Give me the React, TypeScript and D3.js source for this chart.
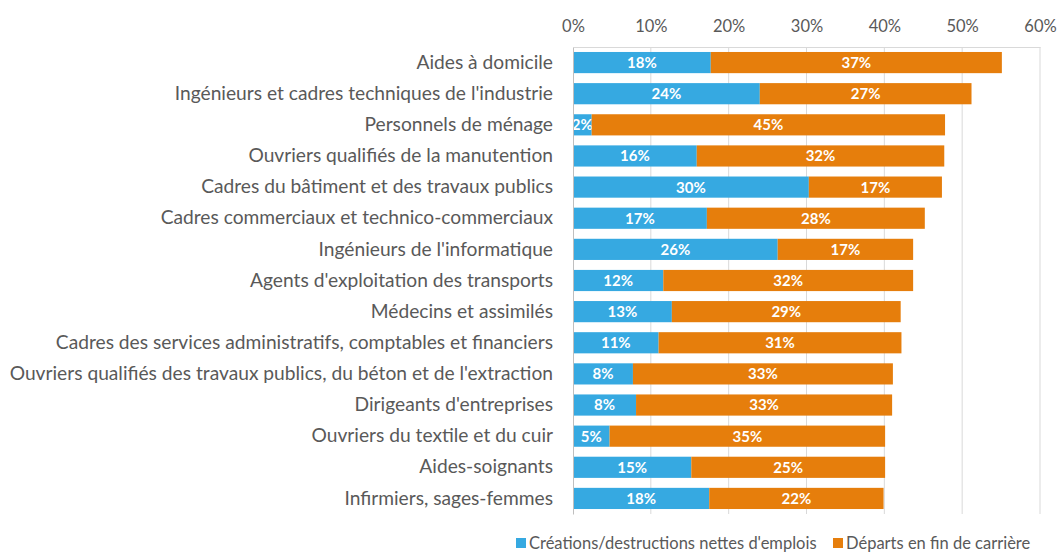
import React, { useEffect, useRef } from 'react';
import * as d3 from 'd3';

const categories = [
  'Aides à domicile',
  "Ingénieurs et cadres techniques de l'industrie",
  'Personnels de ménage',
  'Ouvriers qualifiés de la manutention',
  'Cadres du bâtiment et des travaux publics',
  'Cadres commerciaux et technico-commerciaux',
  "Ingénieurs de l'informatique",
  "Agents d'exploitation des transports",
  'Médecins et assimilés',
  'Cadres des services administratifs, comptables et financiers',
  "Ouvriers qualifiés des travaux publics, du béton et de l'extraction",
  "Dirigeants d'entreprises",
  'Ouvriers du textile et du cuir',
  'Aides-soignants',
  'Infirmiers, sages-femmes',
];

// Créations/destructions nettes d'emplois (%)
const creations = [17.7, 24.0, 2.4, 15.9, 30.3, 17.2, 26.3, 11.6, 12.7, 11.0, 7.7, 8.1, 4.7, 15.2, 17.5];
// Départs en fin de carrière (%)
const departs = [37.4, 27.2, 45.4, 31.8, 17.1, 28.0, 17.4, 32.1, 29.4, 31.2, 33.4, 32.9, 35.4, 24.9, 22.4];

const seriesNames = ["Créations/destructions nettes d'emplois", 'Départs en fin de carrière'];
const tickValues = [0, 10, 20, 30, 40, 50, 60];

const App = () => {
  const chartRef = useRef<SVGSVGElement>(null);

  useEffect(() => {
    const width = 1057;
    const height = 553;
    const margin = { top: 47, right: 17, bottom: 39, left: 573 };
    const font = 'Lato, "Open Sans", sans-serif';
    const colors = ['#36A9E1', '#E67E0C'];

    const svg = d3.select(chartRef.current);
    svg.selectAll('*').remove();

    const x = d3.scaleLinear().domain([0, 60]).range([margin.left, width - margin.right]);
    const y = d3.scaleBand<string>()
      .domain(categories)
      .range([margin.top, height - margin.bottom])
      .paddingInner(0.32)
      .paddingOuter(0.16);

    // gridlines
    svg.append('g')
      .selectAll('line')
      .data(tickValues.slice(1))
      .enter()
      .append('line')
      .attr('x1', d => x(d))
      .attr('x2', d => x(d))
      .attr('y1', margin.top)
      .attr('y2', height - margin.bottom)
      .attr('stroke', '#D9D9D9')
      .attr('stroke-width', 1);

    // top axis
    const xAxis = svg.append('g')
      .attr('transform', `translate(0,${margin.top})`)
      .call(d3.axisTop(x).tickValues(tickValues).tickFormat(d => `${d}%`).tickSize(0).tickPadding(15));
    xAxis.select('.domain').attr('stroke', '#D9D9D9');
    xAxis.selectAll('text')
      .attr('font-family', font)
      .attr('font-size', 16.5)
      .attr('fill', '#595959');

    // stacked data
    const rows = categories.map((c, i) => ({ cat: c, a: creations[i], b: departs[i] }));
    const stacked = d3.stack<any>().keys(['a', 'b'])(rows);

    const layers = svg.append('g')
      .selectAll('g')
      .data(stacked)
      .enter()
      .append('g')
      .attr('fill', (_, i) => colors[i]);

    layers.selectAll('rect')
      .data(d => d)
      .enter()
      .append('rect')
      .attr('x', d => x(d[0]))
      .attr('y', d => y(d.data.cat)!)
      .attr('width', d => x(d[1]) - x(d[0]))
      .attr('height', y.bandwidth());

    layers.selectAll('text')
      .data(d => d)
      .enter()
      .append('text')
      .attr('x', d => (x(d[0]) + x(d[1])) / 2)
      .attr('y', d => y(d.data.cat)! + y.bandwidth() / 2)
      .attr('dy', '0.36em')
      .attr('text-anchor', 'middle')
      .attr('font-family', font)
      .attr('font-weight', 'bold')
      .attr('font-size', 15)
      .attr('fill', '#fff')
      .text(d => `${Math.round(d[1] - d[0])}%`);

    // left axis
    const yAxis = svg.append('g')
      .attr('transform', `translate(${margin.left},0)`)
      .call(d3.axisLeft(y).tickSize(0).tickPadding(20));
    yAxis.select('.domain').attr('stroke', '#BFBFBF');
    yAxis.selectAll('text')
      .attr('font-family', font)
      .attr('font-size', 19.2)
      .attr('fill', '#595959');

    // legend
    const legend = svg.append('g').attr('font-family', font).attr('font-size', 16.5).attr('fill', '#595959');
    const lx = [516, 833];
    seriesNames.forEach((name, i) => {
      legend.append('rect')
        .attr('x', lx[i])
        .attr('y', 538)
        .attr('width', 10)
        .attr('height', 10)
        .attr('fill', colors[i]);
      legend.append('text')
        .attr('x', lx[i] + 13)
        .attr('y', 543)
        .attr('dy', '0.36em')
        .text(name);
    });
  }, []);

  return (
    <svg
      ref={chartRef}
      width={1057}
      height={553}
      style={{ display: 'block', position: 'absolute', left: 0, top: 0, background: '#fff' }}
    />
  );
};

export default App;
